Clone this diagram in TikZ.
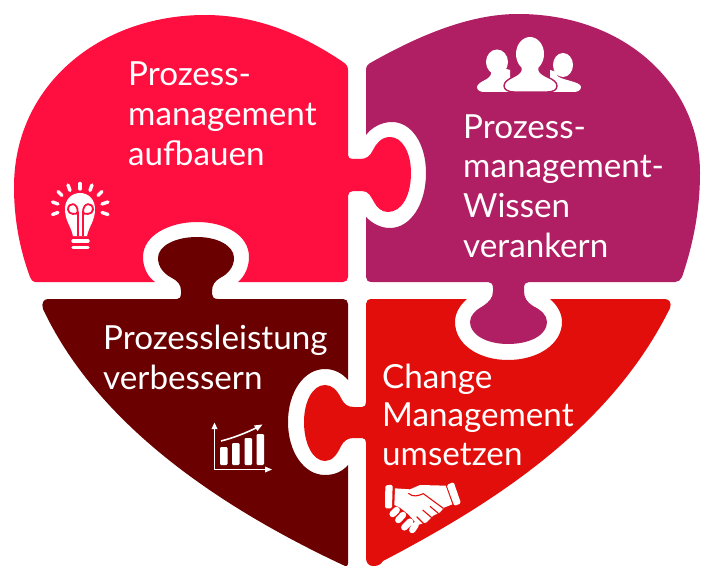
\documentclass[tikz,border=0pt]{standalone}
\usepackage{fontspec}
\setmainfont{Lato}
\definecolor{pinkred}{HTML}{FF0F40}
\definecolor{plum}{HTML}{B01F63}
\definecolor{maroon}{HTML}{6B0000}
\definecolor{signal}{HTML}{E20E0B}
\tikzset{
  label/.style={text=white,inner sep=0pt,align=left,anchor=base west,font=\fontsize{33.2}{39.6}\selectfont},
  tightlabel/.style={label,font=\fontsize{33.2}{38.5}\selectfont},
  ray/.style={white,line width=3.4pt,line cap=round},
  bar/.style={fill=white,rounded corners=1.2pt},
  axis/.style={white,line width=1.3pt},
  tip/.style={fill=white}
}
\begin{document}
\begin{tikzpicture}[x=1pt,y=-1pt]
\useasboundingbox (0,0) rectangle (715,583);
\fill[white] (0,0) rectangle (715,583);
% top left piece
\fill[pinkred] (348,70) .. controls (348,66) and (346,64) .. (343,62)
 .. controls (300,33) and (255,15) .. (205,15)
 .. controls (100,15) and (14,85) .. (14,187)
 .. controls (14,220) and (20,250) .. (30,277)
 .. controls (31,280) and (33,282) .. (35,282)
 -- (155,282) .. controls (148,277) and (143,268) .. (143,257)
 .. controls (143,235) and (170,222) .. (197,222)
 .. controls (225,222) and (249,235) .. (249,257)
 .. controls (249,268) and (244,277) .. (238,282)
 -- (343,282) .. controls (346,282) and (348,280) .. (348,277)
 -- (348,196) .. controls (348,193) and (350,191) .. (353,191)
 -- (362,191) .. controls (369,191) and (371,197) .. (374,202)
 .. controls (377,208) and (382,212) .. (388,212)
 .. controls (402,212) and (411,195) .. (411,173)
 .. controls (411,152) and (402,137) .. (390,137)
 .. controls (381,137) and (376,144) .. (373,150)
 .. controls (370,156) and (367,159) .. (360,159)
 -- (353,159) .. controls (350,159) and (348,158) .. (348,155) -- cycle;
% top right piece
\fill[plum] (366,70) .. controls (366,66) and (368,64) .. (372,62)
 .. controls (420,35) and (470,14) .. (518,14)
 .. controls (625,14) and (700,85) .. (700,173)
 .. controls (700,210) and (693,245) .. (682,277)
 .. controls (681,280) and (678,282) .. (675,282)
 -- (529,282) .. controls (526,282) and (524,284) .. (524,288)
 -- (524,291) .. controls (524,298) and (527,302) .. (533,306)
 .. controls (541,310) and (547,315) .. (547,322)
 .. controls (547,335) and (530,344) .. (508,344)
 .. controls (487,344) and (470,335) .. (470,322)
 .. controls (470,315) and (476,310) .. (483,306)
 .. controls (489,302) and (493,298) .. (493,291)
 -- (493,288) .. controls (493,284) and (491,282) .. (488,282)
 -- (372,282) .. controls (368,282) and (366,280) .. (366,277)
 -- (366,217) .. controls (373,224) and (381,228) .. (390,228)
 .. controls (410,228) and (426,205) .. (426,173)
 .. controls (426,143) and (411,122) .. (392,122)
 .. controls (382,122) and (372,127) .. (366,135) -- cycle;
% bottom left piece
\fill[maroon] (43,309) .. controls (41,303) and (44,299) .. (48,299)
 -- (177,299) .. controls (180,299) and (181,297) .. (181,294)
 -- (181,291) .. controls (181,285) and (178,281) .. (172,278)
 .. controls (164,274) and (158,267) .. (158,258)
 .. controls (158,246) and (175,237) .. (197,237)
 .. controls (218,237) and (234,246) .. (234,258)
 .. controls (234,267) and (228,274) .. (220,278)
 .. controls (215,281) and (212,285) .. (212,291)
 -- (212,294) .. controls (212,297) and (214,299) .. (218,299)
 -- (343,299) .. controls (346,299) and (348,301) .. (348,304)
 -- (348,380) .. controls (342,373) and (334,369) .. (325,369)
 .. controls (304,369) and (288,392) .. (288,422)
 .. controls (288,452) and (304,475) .. (325,475)
 .. controls (334,475) and (342,472) .. (348,465)
 -- (348,563) .. controls (348,566) and (346,567) .. (343,565)
 .. controls (230,512) and (100,430) .. (43,309) -- cycle;
% bottom right piece
\fill[signal] (366,304) .. controls (366,301) and (368,299) .. (372,299)
 -- (467,299) .. controls (460,305) and (455,313) .. (455,322)
 .. controls (455,344) and (478,360) .. (508,360)
 .. controls (538,360) and (562,344) .. (562,322)
 .. controls (562,313) and (557,305) .. (550,299)
 -- (665,299) .. controls (669,299) and (672,303) .. (670,308)
 .. controls (610,430) and (490,505) .. (383,561)
 .. controls (380,566) and (376,566) .. (373,566)
 .. controls (369,566) and (366,563) .. (366,558)
 -- (366,443) .. controls (366,440) and (365,438) .. (362,438)
 -- (354,438) .. controls (347,438) and (344,441) .. (341,446)
 .. controls (337,455) and (332,461) .. (325,461)
 .. controls (313,461) and (304,444) .. (304,422)
 .. controls (304,401) and (313,385) .. (325,385)
 .. controls (332,385) and (337,390) .. (341,398)
 .. controls (344,404) and (347,407) .. (354,407)
 -- (362,407) .. controls (365,407) and (366,405) .. (366,402) -- cycle;
% labels
\node[label] (a) at (128,165) {Prozess-\\management\\aufbauen};
\node[label] (b) at (463,257) {Prozess-\\management-\\Wissen\\verankern};
\node[label] (c) at (103,349) {Prozessleistung};
\node[label] (c2) at (103,389) {verbessern};
\node[tightlabel] (d) at (382,465) {Change\\Management\\umsetzen};
% bulb
\foreach \xa/\ya/\xb/\yb in {80/183.5/80/189, 92/185/90/190.5, 102/191.5/98/195.5, 108/202/102/204, 108/214.5/102/212.5, 68/185/70/190.5, 58/191.5/62/195.5, 52.5/202/58/204, 52.5/214.5/58/212.5}
  \draw[ray] (\xa,\ya) -- (\xb,\yb);
\fill[white] (73,236) .. controls (71,226) and (65,221) .. (65,209)
 .. controls (65,200) and (71,193) .. (80,193)
 .. controls (89,193) and (95,200) .. (95,209)
 .. controls (95,221) and (89,226) .. (87,236) -- cycle;
\draw[pinkred,line width=1.8pt] (77.7,236) -- (77.7,212) (83,236) -- (83,212);
\draw[pinkred,line width=1.8pt] (77.7,212) .. controls (77.7,215) and (68,215) .. (68,209.5) .. controls (68,202) and (78,202) .. (77.7,212);
\draw[pinkred,line width=1.8pt] (83,212) .. controls (83,215) and (93,215) .. (93,209.5) .. controls (93,202) and (83,202) .. (83,212);
\draw[white,line width=3.4pt,line cap=round] (73,241) -- (88,241) (73,247.5) -- (88,247.5);
% people
\fill[white] (497,62) ellipse[x radius=11,y radius=12.5];
\fill[white] (491,68) -- (491,74) .. controls (490,80) and (478,81) .. (477,87)
 .. controls (477,90) and (480,92) .. (484,92) -- (510,92) -- (510,70) -- (503,68) -- cycle;
\fill[white] (563,65) ellipse[x radius=10,y radius=12];
\fill[white] (557,72) -- (557,75) .. controls (558,80) and (581,81) .. (581,87)
 .. controls (581,90) and (578,92) .. (574,92) -- (550,92) -- (550,70) -- cycle;
\fill[white,draw=plum,line width=1.4pt] (521,66) -- (521,70) .. controls (519,77) and (504,78) .. (504,86)
 .. controls (504,90) and (509,92) .. (514,92) -- (547,92) .. controls (553,92) and (557,90) .. (557,86)
 .. controls (557,78) and (541,77) .. (539,70) -- (539,66) -- cycle;
\fill[white] (530,54) ellipse[x radius=14,y radius=17];
% chart
\draw[axis] (214.5,428) -- (214.5,469.5) -- (267,469.5);
\fill[tip] (214.5,422.5) -- (217.5,429) -- (211.5,429) -- cycle;
\fill[tip] (272,469.5) -- (265,466.5) -- (265,472.5) -- cycle;
\fill[bar] (220,447) rectangle (227.5,465);
\fill[bar] (232,443) rectangle (239.5,465);
\fill[bar] (244.5,438) rectangle (252,465);
\fill[bar] (256.5,434) rectangle (264,465);
\draw[white,line width=1.6pt] (221,441) .. controls (233,438) and (246,433) .. (257,427.5);
\fill[tip] (262.5,424.5) -- (254,425.5) -- (257.5,431) -- cycle;
% handshake
\begin{scope}[shift={(375,475)},x=.3333pt,y=-.3333pt]
\fill[white,rounded corners=1.5pt] (31,31) -- (53,29) -- (51,100) -- (30,100) -- cycle;
\fill[white,rounded corners=1.5pt] (215,30) -- (236,21) -- (258,85) -- (238,93) -- cycle;
\fill[white] (60,40) -- (105,43) -- (135,30) -- (212,32) -- (232,88) -- (207,98) -- (195,112)
 -- (175,122) -- (155,142) -- (128,150) -- (100,118) -- (75,98) -- (58,90) -- cycle;
\draw[signal,line width=1.1pt] (100,55) .. controls (115,68) and (130,62) .. (145,56) -- (205,100);
\draw[signal,line width=1.1pt] (190,115) -- (165,94) (170,128) -- (143,105) (148,148) -- (125,125);
\draw[signal,line width=1.5pt] (58,97) -- (125,155);
\draw[white,line width=6.5pt,line cap=round] (53,117) -- (65,105) (70,135) -- (84,120) (88,157) -- (105,140) (112,165) -- (122,150);
\end{scope}
\end{tikzpicture}
\end{document}
